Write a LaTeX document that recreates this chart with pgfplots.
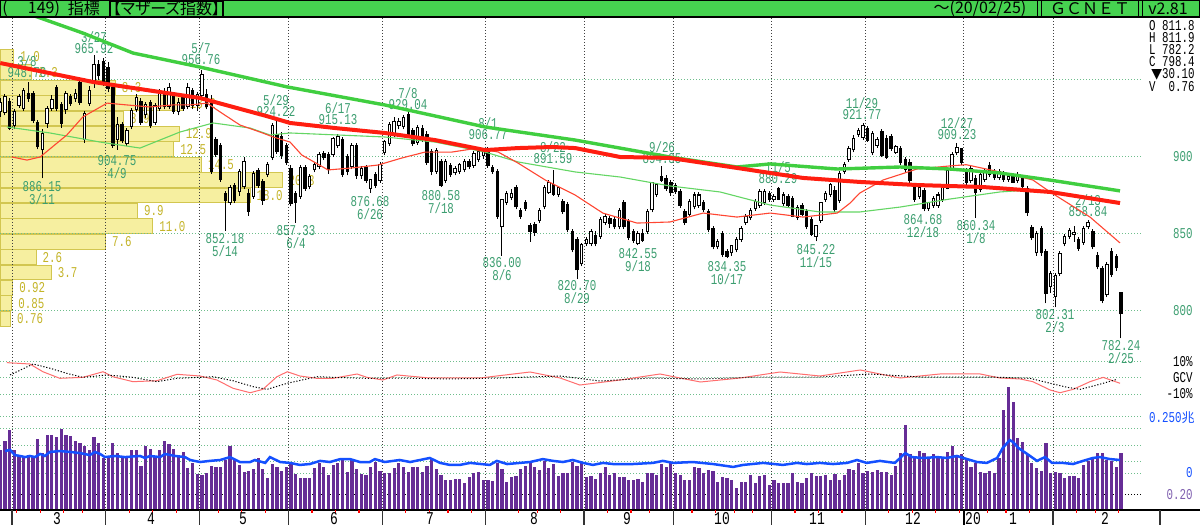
\documentclass[border=0pt]{standalone}
\usepackage{fontspec}
\setmainfont{Liberation Sans}
\newfontfamily\lbl[FakeStretch=0.72]{Liberation Mono}
\newfontfamily\cjk{Noto Sans CJK JP}
\newfontfamily\dejavu{DejaVu Sans}
\usepackage{pgfplots}
\pgfplotsset{compat=1.18}
\usepackage{pgfplotstable}
\definecolor{hdr}{RGB}{70,210,80}
\definecolor{lab}{RGB}{60,158,112}
\definecolor{gridg}{RGB}{110,190,140}
\definecolor{proffill}{RGB}{246,239,160}
\definecolor{profdraw}{RGB}{210,198,80}
\definecolor{proflab}{RGB}{196,180,40}
\definecolor{thickgreen}{RGB}{64,206,64}
\definecolor{thingreen}{RGB}{100,214,100}
\definecolor{thickred}{RGB}{255,30,16}
\definecolor{thinred}{RGB}{255,70,50}
\definecolor{oscred}{RGB}{255,110,110}
\definecolor{volpurple}{RGB}{102,45,150}
\definecolor{blueline}{RGB}{20,80,255}
\definecolor{vlab}{RGB}{128,96,176}
\newcommand\lf{\lbl\fontsize{7.5}{5.5}\selectfont}

\pgfplotstableread{
i O H L C V
0 930 938 926 935 0.80
1 929.5 941 927 939 0.92
2 936 938 917.5 919 1.07
3 921 931 918 929 0.80
4 934 941 932 939 0.73
5 932 945 930 943 0.71
6 941 948.78 936 938 0.73
7 941 943 922 924 0.71
8 922 924 905 907 0.95
9 905 918 886.15 915 0.76
10 922 933 919 931 1.00
11 932 940 930 937 1.00
12 945 947 930 932 0.97
13 934 936 919 922 1.08
14 931 943 928 941 1.00
15 939 941 933 935 0.99
16 938 944 936 941 0.92
17 948 951 934 936 0.89
18 912 930 909 928 0.85
19 935 946 933 943 0.80
20 948 965.92 945 960 0.97
21 960 963 950 953 0.89
22 962 964 946 949 0.69
23 958 962 942 945 0.71
24 945 947 906 908 0.89
25 912 926 904.75 921 0.76
26 921 923 909 911 0.72
27 909 919 907 917 0.72
28 920 932 918 930 0.80
29 931 941 929 938 0.80
30 936 938 921 923 0.59
31 928 936 925 934 0.85
32 935 937 919 921 0.81
33 923 935 921 933 0.71
34 932 944 930 942 0.80
35 942 945 931 933 0.92
36 933 948 931 945 0.88
37 940 942 928 930 0.81
38 930 938 927 935 0.71
39 938 940 930 932 0.77
40 933 948 931 945 0.56
41 943 945 931 934 0.63
42 934 942 930 940 0.48
43 940 956.76 938 953 0.47
44 940 944 931 933 0.49
45 936 940 889 891 0.59
46 911 913 900 902 0.57
47 907 909 884 886 0.57
48 876 878 852.18 872 0.67
49 871 882 869 880 0.85
50 881 883 870 872 0.67
51 878 892 875 890 0.60
52 881 900 879 897 0.51
53 876 879 862 865 0.52
54 875 891 873 889 0.55
55 891 893 880 882 0.69
56 884 886 869 872 0.55
57 889 897 887 895 0.43
58 900 922 898 920 0.61
59 914 924.22 902 904 0.57
60 913 916 899 901 0.52
61 907 909 895 897 0.57
62 892 895 868 870 0.63
63 876 878 857.33 871 0.48
64 875 895 873 893 0.43
65 893 895 878 880 0.43
66 881 889 879 887 0.43
67 892 897 890 895 0.56
68 894 903 892 901 0.63
69 902 904 898 900 0.57
70 901 903 889 892 0.47
71 902 913 900 912 0.60
72 908 915.13 906 913 0.63
73 911 913 887 889 0.69
74 900 902 888 891 0.51
75 894 909 892 907 0.67
76 907 909 886 888 0.55
77 888 894 886 892 0.48
78 893 895 883 885 0.47
79 880 886 876.68 885 0.57
80 888 890 880 882 0.64
81 885 897 883 895 0.52
82 903 911 901 910 0.49
83 909 923 907 921 0.49
84 915 926 913 923 0.56
85 921 925 918 923 0.63
86 920 927 918 925 0.57
87 927 929.04 914 915 0.51
88 917 919 907 909 0.57
89 910 921 908 919 0.57
90 918 921 910 912 0.51
91 914 917 895 897 0.59
92 903 905 888 891 0.68
93 891 906 889 904 0.55
94 897 899 880.58 882 0.47
95 885 899 883 897 0.40
96 894 896 887 889 0.40
97 890 894 888 892 0.41
98 891 896 889 895 0.41
99 892 899 890 897 0.36
100 897 899 892 894 0.44
101 895 904 893 902 0.49
102 899 905 897 903 0.51
103 901 906 899 904 0.40
104 905 906.77 893 895 0.40
105 893 895 889 891 0.39
106 890 892 860 862 0.63
107 855 873 836 872 0.55
108 871 878 869 876 0.37
109 874 879 872 876 0.44
110 880 882 866 868 0.45
111 865 867 860 862 0.55
112 870 872 865 867 0.59
113 855 857 845 852 0.63
114 856 858 849 851 0.57
115 859 867 857 865 0.53
116 868 882 866 880 0.65
117 877 885 876 883 0.56
118 882 891.59 875 876 0.61
119 876 881 874 880 0.45
120 871 873 863 865 0.49
121 869 871 851 853 0.49
122 851 853 838 840 0.64
123 846 848 820.70 827 0.59
124 831 844 829 843 0.63
125 844 848 842 846 0.44
126 844 853 842 851 0.45
127 849 852 842 844 0.41
128 849 861 847 859 0.49
129 858 863 856 861 0.57
130 860 862 854 857 0.47
131 859 861 853 855 0.49
132 855 867 853 865 0.44
133 870 872 853 855 0.44
134 858 860 846 848 0.40
135 851 853 844 846 0.40
136 844 852 842.55 850 0.41
137 850 853 845 846 0.37
138 852 866 850 864 0.49
139 866 884 864 883 0.49
140 876 883 874 882 0.47
141 887 894.35 884 885 0.61
142 886 888 878 880 0.57
143 883 885 875 877 0.63
144 881 883 876 878 0.49
145 877 879 867 869 0.47
146 864 866 856 858 0.40
147 863 873 861 871 0.40
148 868 877 866 875 0.57
149 869 877 867 875 0.56
150 870 872 864 866 0.49
151 864 866 851 853 0.53
152 853 855 840 842 0.52
153 842 847 840 845 0.37
154 850 852 835 837 0.44
155 838 840 834.35 836 0.43
156 838 843 836 842 0.40
157 840 848 838 846 0.29
158 847 855 845 853 0.37
159 858 863 856 861 0.37
160 861 867 859 865 0.47
161 867 873 865 871 0.36
162 869 879 867 877 0.45
163 871 879 869 877 0.47
164 876 878 871 873 0.33
165 873 876 871 874 0.40
166 879.5 880.29 872 873 0.36
167 870 877 868 875 0.36
168 874 876 867 869 0.36
169 873 875 861 862 0.49
170 861 869 859 867 0.37
171 868 870 862 863 0.36
172 864 866 853 855 0.43
173 859 861 849 850 0.49
174 849 856 845.22 855 0.45
175 859 871 857 870 0.45
176 873 878 871 876 0.47
177 876 883 874 882 0.40
178 878 881 864 866 0.48
179 872 891 870 889 0.40
180 891 897 889 895 0.47
181 899 907 897 905 0.55
182 905 914 903 912 0.53
183 915 919 913 917 0.63
184 913 921.77 911 920 0.49
185 918 920 910 911 0.52
186 903 917 901 915 0.51
187 908 913 906 911 0.53
188 916 918 900 901 0.51
189 912 914 899 900 0.51
190 913 915 904 906 0.47
191 903.5 908 902 906.5 0.59
192 905 907 895 897 0.76
193 898 900 890 892 1.13
194 896 899 883 885 0.75
195 880 882 871 873 0.72
196 875 881 873 880 0.79
197 878 880 864.68 867 0.76
198 867 871 865 870 0.71
199 869 875 867 873 0.75
200 869 877 867 875 0.72
201 873 881 871 880 0.71
202 880 893 879 891 0.77
203 893 903 891 901 0.85
204 903 909.23 901 906 0.71
205 905 906 895 897 0.75
206 890 893 882 884 0.69
207 885 894 883 892 0.57
208 886 888 860.34 877 0.63
209 879 890 877 888 0.51
210 886 893 884 891 0.49
211 894 897 887 889 0.52
212 889 892 885 887 0.49
213 887 892 885 890 0.69
214 889 891 884 886 1.33
215 886 889 884 887 1.64
216 887 889 883 884 1.44
217 885 890 883 888 0.96
218 886 888 879 881 0.91
219 879 881 862 864 0.73
220 854 856 846 848 0.63
221 838 852 836 850 0.56
222 853 855 836 838 0.52
223 838 840 805 812 0.89
224 816 826 812 824 0.49
225 810 825 802.31 823 0.51
226 825 839 823 837 0.49
227 844 850 842 848 0.43
228 849 854 847 852 0.45
229 850 855 845 850.5 0.45
230 846 848 839 841 0.43
231 845 855 843 853 0.60
232 855 858.84 853 857 0.65
233 851 853 840 842 0.71
234 836 838 827 829 0.76
235 827 829 805 807 0.76
236 811 832 809 830 0.67
237 838 840.7 822 824 0.65
238 835 837 826 828.5 0.57
239 811.8 811.9 782.24 798.4 0.76
}\ohlc

\pgfplotstableread{
v p lab
1.0 965 1.0
2.3 955 2.3
8.3 945 8.3
13.2 935 13.2
8.9 925 8.9
12.9 915 12.9
12.5 905 12.5
14.5 895 14.5
20.3 885 20.3
18.0 875 18.0
9.9 865 9.9
11.0 855 11.0
7.6 845 7.6
2.6 835 2.6
3.7 825 3.7
0.92 815 0.92
0.85 805 0.85
0.76 795 0.76
}\prof

\begin{document}
\begin{tikzpicture}
\fill[white] (0,0) rectangle (600pt,262.5pt);
\useasboundingbox (0,0) rectangle (600pt,262.5pt);

% ---------- volume profile ----------
\begin{axis}[at={(0pt,86.5pt)}, anchor=south west, scale only axis,
  width=580pt, height=167pt, xmin=0, xmax=83.45, ymin=773.38, ymax=990.26,
  hide axis, xbar, bar width=7.4pt, clip=false,
  nodes near coords, point meta=explicit symbolic,
  every node near coord/.append style={font=\lf, text=proflab, anchor=west, xshift=3pt, inner sep=0pt}]
\addplot[fill=proffill, draw=profdraw, line width=0.5pt] table[x=v, y=p, meta=lab] {\prof};
\end{axis}

% ---------- grid ----------
\foreach \Y in {222.5,184,145.5,107,81.5,73.5,65.25,54,48,39.5,31.5,25.5}
  \draw[gridg, line width=0.5pt, dash pattern=on 0.5pt off 1pt] (0,\Y pt) -- (571.5pt,\Y pt);
\draw[black, line width=0.5pt, dash pattern=on 0.5pt off 1pt] (0,15pt) -- (571.5pt,15pt);
\foreach \X in {6,52.9,99.8,144.3,191.2,242.8,292,336.6,385.8,432.7,481.95,526.5}
  \draw[black!75, line width=0.5pt, dash pattern=on 0.5pt off 1pt] (\X pt,253.5pt) -- (\X pt,7.5pt);

% ---------- price annotations ----------
\begin{scope}[every node/.style={align=center, text=lab, inner sep=0pt, font=\lf}]
\node at (13.5pt,229.25pt) {3/8\\948.78};
\node at (47pt,241.25pt) {3/27\\965.92};
\node at (100.5pt,235.5pt) {5/7\\956.76};
\node at (138pt,209.5pt) {5/29\\924.22};
\node at (169pt,205.5pt) {6/17\\915.13};
\node at (204pt,213pt) {7/8\\929.04};
\node at (244pt,198pt) {8/1\\906.77};
\node at (276.5pt,186.25pt) {8/22\\891.59};
\node at (331pt,186pt) {9/26\\894.35};
\node at (389pt,176pt) {11/5\\880.29};
\node at (431pt,208pt) {11/29\\921.77};
\node at (478.5pt,198pt) {12/27\\909.23};
\node at (544pt,159.75pt) {2/13\\858.84};
\node at (21pt,166pt) {886.15\\3/11};
\node at (58.5pt,179pt) {904.75\\4/9};
\node at (112.5pt,140pt) {852.18\\5/14};
\node at (148pt,144pt) {857.33\\6/4};
\node at (185pt,158.5pt) {876.68\\6/26};
\node at (220.5pt,161.5pt) {880.58\\7/18};
\node at (251pt,128pt) {836.00\\8/6};
\node at (288.5pt,116.5pt) {820.70\\8/29};
\node at (319pt,132.5pt) {842.55\\9/18};
\node at (363.5pt,126pt) {834.35\\10/17};
\node at (408pt,134.5pt) {845.22\\11/15};
\node at (461.5pt,149.5pt) {864.68\\12/18};
\node at (488pt,146.25pt) {860.34\\1/8};
\node at (527.5pt,102pt) {802.31\\2/3};
\node at (560.5pt,86.5pt) {782.24\\2/25};
\end{scope}

% ---------- main price panel ----------
\begin{axis}[at={(0pt,86.5pt)}, anchor=south west, scale only axis,
  width=580pt, height=167pt, xmin=-0.058, xmax=247.33, ymin=773.38, ymax=990.26, hide axis]
\addplot[black, line width=0.5pt, quiver={u=0, v={\thisrow{H}-\thisrow{L}}}] table[x=i, y=L] {\ohlc};
\addplot[black, line width=1.7pt, quiver={u=0, v={abs(\thisrow{C}-\thisrow{O})+1.3}}] table[x=i, y expr={min(\thisrow{O},\thisrow{C})-0.65}] {\ohlc};
\addplot[white, line width=0.7pt, quiver={u=0, v={max(\thisrow{C}-\thisrow{O},0)}}] table[x=i, y=O] {\ohlc};
\addplot[thingreen, line width=0.55pt] coordinates {(1.4,919.5) (10.6,915.6) (21.3,909.7) (29.8,905.8) (38.3,916.2) (45.4,922.1) (53.3,918.8) (57.5,914.3) (61.8,915.6) (82,913) (92.7,909.7) (103.4,903.2) (110.4,896.8) (122.6,890.3) (132.2,887) (142.8,881.2) (153.5,877.3) (164.2,868.8) (174.8,864.3) (183.3,864.3) (191.9,867.5) (202.5,872.7) (213.2,877.3) (219.6,878.6) (238.8,870.8)};
\addplot[thinred, line width=0.55pt] coordinates {(2.5,900) (5.7,898) (8.5,900) (14.2,914.3) (17.6,926) (22.8,935) (27,933.8) (31.9,932.5) (36.8,933.8) (40.5,933.8) (44.1,935) (46.9,929.2) (51.1,920.8) (55.4,916.2) (58.2,913) (61.8,909.7) (64.3,901.3) (69.9,891.6) (75,892.9) (80.6,894.8) (85.7,899.4) (90.6,903.2) (96.3,903.2) (101.9,905.8) (106.2,903.2) (110.4,896.1) (116.2,885.1) (122.6,875.3) (128.5,863.6) (135.8,857.1) (142.8,857.8) (149.9,863.6) (157.1,861) (164.2,863.6) (171.2,861) (178.5,863.6) (181.2,870) (183.3,876.6) (188.3,885.1) (195.5,892.2) (202.5,894.2) (206,895) (213.2,890.3) (220.2,885.1) (223.9,877.3) (232.4,861) (238.8,844.2)};
\addplot[thickgreen, line width=1.7pt] coordinates {(5,994) (8.5,990.3) (17.6,980.5) (28.3,967.5) (42.6,958.4) (61.2,945.5) (82,933.8) (103.4,919.5) (122.6,911) (142.8,900) (157.1,893.5) (164.2,895.5) (178.5,892.2) (191.9,893.5) (202.5,892.2) (213.2,889.6) (223.9,885) (238.8,878)};
\addplot[thickred, line width=2pt] coordinates {(0,961) (1,960.4) (19.8,948.7) (42.6,938.3) (56.9,926.5) (61.8,922.1) (71.4,918.8) (82,915.6) (92.7,911) (103.4,904.5) (110.4,905.8) (117.7,906.5) (122.6,905.8) (132.2,900) (142.8,899.4) (157.1,892.9) (171.2,886.4) (183.3,883.8) (195.5,881.8) (209.6,880.5) (223.9,877.3) (238.8,870.1)};
\end{axis}

% ---------- oscillator panel ----------
\begin{axis}[at={(0pt,62.5pt)}, anchor=south west, scale only axis,
  width=580pt, height=24pt, xmin=-0.058, xmax=247.33, ymin=-13.75, ymax=16.25, hide axis]
\addplot[oscred, line width=0.5pt] coordinates {(1.4,9.6) (6.3,8.75) (9.1,3.9) (12.7,-0.2) (17.6,0.4) (21.9,3.9) (24,0.8) (28.3,-2.3) (33.4,-1.7) (37.7,2.3) (42.6,1.25) (46.2,-1.25) (49.6,-6.4) (53.3,-9.2) (56,-7.1) (59,0.8) (61.2,3.9) (63.9,1.25) (67.5,-0.2) (71,-0.2) (76.1,2.5) (78.2,0.4) (81.6,-1.25) (84.6,1.9) (91.6,0) (102.3,0) (113,3.75) (119.4,0) (123.6,-4.4) (132.2,-1.25) (140.7,2.5) (149.3,-2.5) (157.8,0) (166.3,3.75) (174.8,1.25) (183.4,5) (191.9,0) (200.4,2.5) (209,2.5) (213.2,0) (217.5,-0.6) (220.2,-2.3) (223.9,-7.5) (226,-9.2) (228.8,-7.1) (232.4,-2.3) (235.2,0.4) (238.8,-3.3)};
\addplot[black, line width=0.5pt, dash pattern=on 0.6pt off 0.9pt] coordinates {(2.1,1.9) (7,8.75) (10.6,6.1) (14.2,2.9) (17.6,0.4) (22.8,1.9) (28.3,0.4) (33.4,-2.3) (37.7,-0.2) (45.4,0.8) (49.6,-1.7) (53.9,-5.4) (56.9,-7.1) (61.2,-3.3) (67.5,0.8) (71,0.4) (78.2,-0.2) (84.6,0) (95.9,-0.6) (106.6,0) (119.4,1.25) (128,-1.9) (138.6,0) (149.3,-0.6) (162.1,0.6) (174.8,0.6) (185.5,2.5) (196.2,0.6) (211.1,0.6) (219.6,-0.2) (223.9,-3.3) (227.5,-5.8) (230.3,-7.1) (233.9,-4.4) (238.2,-0.8)};
\end{axis}

% ---------- volume panel ----------
\begin{axis}[at={(0pt,7.5pt)}, anchor=south west, scale only axis,
  width=580pt, height=65pt, xmin=-0.058, xmax=247.33, ymin=0, ymax=1.7333, hide axis]
\addplot[volpurple, line width=1.6pt, quiver={u=0, v={\thisrow{V}}}] table[x=i, y expr={0}] {\ohlc};
\end{axis}
\begin{axis}[at={(0pt,7.5pt)}, anchor=south west, scale only axis,
  width=580pt, height=65pt, xmin=-0.058, xmax=247.33, ymin=-165.2, ymax=415.2, hide axis]
\addplot[blueline, line width=1.25pt] coordinates {(1,98) (2.1,103) (3.1,80) (4.2,76) (5.3,71) (6.3,76) (7.4,71) (8.5,85) (9.5,76) (10.6,94) (12.7,98) (14.9,94) (17,89) (19.1,80) (20.2,94) (21.3,85) (22.3,71) (24.5,76) (26.6,71) (29.8,76) (30.9,67) (31.9,76) (34.1,71) (35.1,85) (37.3,76) (39.4,71) (40.5,58) (42.6,49) (44.7,54) (46.9,58) (49,71) (51.1,49) (53.3,49) (54.3,58) (56.5,45) (57.5,71) (59.7,49) (61.8,45) (63.9,36) (66,40) (68.2,54) (70.3,49) (72.5,62) (74.6,62) (76.7,49) (78.8,49) (79.9,62) (82,49) (85.2,58) (87.4,49) (89.5,58) (91.6,67) (93.8,45) (95.9,36) (98,36) (100.2,45) (104.4,36) (105.9,54) (108.1,40) (110.8,45) (113,49) (115.7,62) (117.9,54) (120,49) (122.1,58) (124.3,45) (126.4,36) (128.5,45) (130.7,40) (134.9,40) (139.2,45) (141.3,54) (143.5,45) (147.7,49) (152,40) (156.3,27) (158.4,36) (162.7,45) (166.9,36) (169.9,45) (172,40) (174.8,45) (177.6,40) (180.6,45) (182.7,58) (184.8,45) (187.6,54) (190.8,45) (193,89) (194.4,71) (196.8,67) (199.8,71) (201.9,67) (204,76) (206.2,62) (208.3,49) (210.4,45) (212.6,67) (213.8,112) (215.3,147) (216,138) (217.1,112) (219,85) (221.1,54) (222.8,71) (224.3,45) (226.6,45) (228.8,40) (230.9,54) (233,67) (234.5,71) (236.7,62) (238.8,58)};
\end{axis}

% ---------- bottom date strip ----------
\draw[black, line width=0.6pt] (0,7.5pt) -- (600pt,7.5pt);
\foreach \X in {6,52.9,99.8,144.3,191.2,242.8,292,336.6,385.8,432.7,526.5,580}
  \draw[black!80, line width=0.6pt] (\X pt,7.5pt) -- (\X pt,0pt);
\draw[black, line width=1.1pt] (481.95pt,7.5pt) -- (481.95pt,0pt);
\foreach \X in {8.34,20.06,31.79,41.16,64.61,76.33,88.05,109.15,120.88,132.6,156.04,167.77,179.49,202.94,214.66,224.03,235.76,259.21,268.58,280.31,303.75,315.47,324.85,345.95,357.67,367.05,376.43,397.53,409.25,420.98,444.42,456.14,467.86,479.59,493.66,503.03,514.76,538.2,547.58,559.3}
  \draw[red, line width=0.6pt] (\X pt,7.5pt) -- (\X pt,6pt);
\begin{scope}[every node/.style={inner sep=0pt, font=\lbl\fontsize{9}{9}\selectfont}]
\node at (28.5pt,3.3pt) {3};
\node at (75.5pt,3.3pt) {4};
\node at (121.5pt,3.3pt) {5};
\node at (167pt,3.3pt) {6};
\node at (215pt,3.3pt) {7};
\node at (267pt,3.3pt) {8};
\node at (313.5pt,3.3pt) {9};
\node at (361pt,3.3pt) {10};
\node at (408.5pt,3.3pt) {11};
\node at (456.5pt,3.3pt) {12};
\node at (486.5pt,3.3pt) {20};
\node at (506.5pt,3.3pt) {1};
\node at (552.5pt,3.3pt) {2};
\end{scope}

% ---------- right labels ----------
\begin{scope}[every node/.style={inner sep=0pt, anchor=east, font=\lf}]
\node[text=lab] at (596.5pt,184pt) {900};
\node[text=lab] at (596.5pt,145.5pt) {850};
\node[text=lab] at (596.5pt,107pt) {800};
\node at (596.5pt,81.5pt) {10\%};
\node at (596.5pt,73.5pt) {GCV};
\node at (596.5pt,65.5pt) {-10\%};
\node[text=blueline] at (597.5pt,53.75pt) {0.250{\cjk\fontsize{6.5}{7}\selectfont 兆}};
\node[text=blueline] at (596.5pt,26pt) {0};
\node[text=vlab] at (596.5pt,15pt) {0.20};
\node at (597.5pt,249.75pt) {O 811.8};
\node at (597.5pt,243.75pt) {H 811.9};
\node at (597.5pt,237.75pt) {L 782.2};
\node at (597.5pt,231.75pt) {C 798.4};
\node at (597.5pt,225.25pt) {{\dejavu\fontsize{7}{7}\selectfont ▼}30.10};
\node at (597.5pt,219pt) {V\ \ 0.76};
\end{scope}

% ---------- header ----------
\fill[hdr] (0,254pt) rectangle (600pt,262.5pt);
\draw[black, line width=0.6pt] (0.3pt,254pt) rectangle (599.7pt,262.2pt);
\draw[black, line width=0.8pt] (55pt,254.3pt) rectangle (111.5pt,262pt);
\foreach \X in {518.5,520.5,569,571}
  \draw[black, line width=0.5pt] (\X pt,254pt) -- (\X pt,262.5pt);
\begin{scope}[every node/.style={inner sep=0pt, font=\cjk\fontsize{8}{8}\selectfont}]
\node at (2.6pt,258.2pt) {(};
\node at (22pt,258.2pt) {149)};
\node at (42pt,258.2pt) {指標};
\node at (83.25pt,258.2pt) {{\addfontfeature{RawFeature=+palt}【マザーズ指数】}};
\node at (490pt,258.2pt) {～(20/02/25)};
\node at (545pt,258.2pt) {ＧＣＮＥＴ};
\node at (584pt,258.2pt) {v2.81};
\end{scope}
\end{tikzpicture}
\end{document}
